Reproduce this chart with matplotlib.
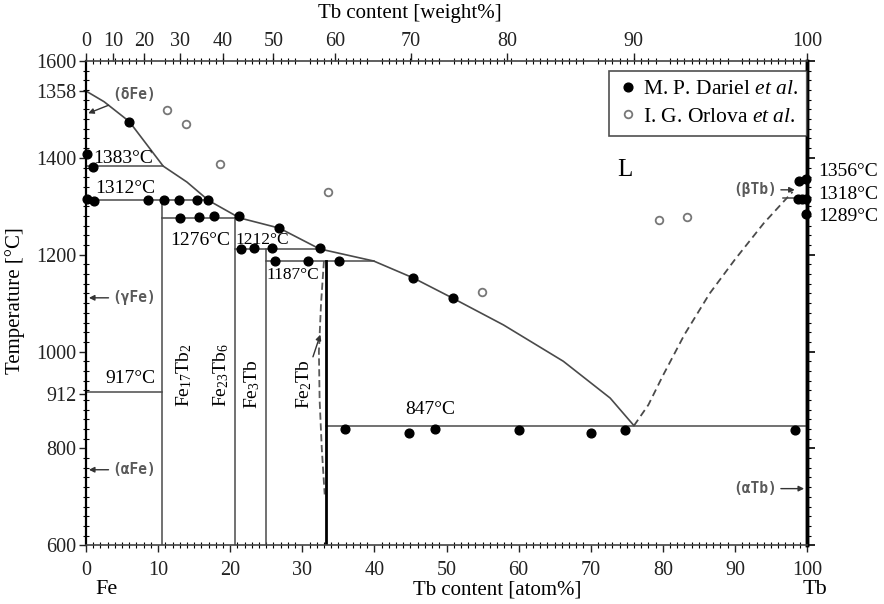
import matplotlib
matplotlib.use("Agg")
import matplotlib.pyplot as plt
from matplotlib.ticker import MultipleLocator, FixedLocator
import numpy as np

plt.rcParams['font.family'] = ['Liberation Serif', 'DejaVu Serif']
plt.rcParams['mathtext.fontset'] = 'custom'
plt.rcParams['mathtext.rm'] = 'Liberation Serif'
plt.rcParams['mathtext.it'] = 'Liberation Serif:italic'

# liquidus (solid, Fe side) and Tb side (dashed)
liq_x = [0, 2.5, 6.0, 10.7, 14.0, 17.0, 21.3, 26.8, 32.4, 39.9, 45.4, 50.9, 57.9, 66.2, 72.7, 76.0]
liq_t = [1538, 1516, 1475, 1383, 1350, 1312, 1276, 1255, 1212, 1187, 1152, 1110, 1055, 980, 904, 847]
tb_liq_x = [76.0, 78.0, 80.0, 83.0, 86.5, 90.0, 94.0, 98.0]
tb_liq_t = [847, 890, 950, 1035, 1120, 1190, 1265, 1330]
fe2tb_x = [33.0, 32.6, 32.3, 32.4, 32.7, 33.1]
fe2tb_t = [1187, 1100, 1000, 900, 800, 705]

# invariant lines: (x start, x end, temperature)
iso_x0 = [0, 0, 10.5, 20.7, 25.0, 0, 33.3, 96.7]
iso_x1 = [10.7, 17.0, 21.3, 32.4, 39.9, 10.5, 100, 100]
iso_t = [1383, 1312, 1276, 1212, 1187, 917, 847, 1317]

# compounds: composition, top temperature, label
comp_x = [10.5, 20.7, 25.0]
comp_top = [1312, 1276, 1212]
comp_labels = [r'Fe$_{17}$Tb$_2$', r'Fe$_{23}$Tb$_6$', r'Fe$_3$Tb']
comp_label_x = [13.6, 18.8, 23.0]
comp_label_t = [952, 952, 932]

# M. P. Dariel et al. (filled)
dar_x = [0.2, 1.0, 6.0, 0.2, 1.1, 8.6, 10.8, 12.9, 15.4, 16.9, 13.0, 15.7, 17.8, 21.2,
         26.8, 21.5, 23.3, 25.8, 32.5, 26.2, 30.8, 35.1, 45.4, 50.9,
         35.9, 44.8, 48.4, 60.0, 70.0, 74.8, 98.3, 98.9, 99.9, 98.7, 99.3, 99.9, 99.9]
dar_t = [1408, 1382, 1475, 1315, 1310, 1312, 1312, 1312, 1312, 1314, 1276, 1277, 1279, 1279,
         1255, 1212, 1214, 1214, 1213, 1187, 1188, 1187, 1152, 1110,
         840, 832, 841, 838, 832, 838, 838, 1353, 1357, 1316, 1316, 1316, 1284]
# I. G. Orlova et al. (open)
orl_x = [11.3, 13.8, 18.6, 33.5, 54.9, 79.5, 83.3]
orl_t = [1498, 1470, 1388, 1329, 1123, 1272, 1278]

# temperature labels
temp_text = ['1383°C', '1312°C', '1276°C', '1212°C', '1187°C', '917°C', '847°C']
temp_x = [5.2, 5.4, 15.8, 24.4, 28.75, 6.1, 47.7]
temp_t = [1399, 1337, 1229, 1231, 1159, 945, 880]
temp_size = [14, 14, 14, 12.5, 12.5, 14, 14]
tb_text = ['1356°C', '1318°C', '1289°C']
tb_t = [1372, 1324, 1279]

y_ticks = [600, 800, 912, 1000, 1200, 1400, 1538, 1600]
y_ticklabels = ['600', '800', '912', '1000', '1200', '1400', '1358', '1600']
wt_ticks = [0, 10, 20, 30, 40, 50, 60, 70, 80, 90, 100]

M_TB, M_FE = 158.925, 55.845


def at2wt(a):
    a = np.asarray(a, float)
    with np.errstate(divide='ignore', invalid='ignore'):
        return 100 * a * M_TB / (a * M_TB + (100 - a) * M_FE)


def wt2at(w):
    w = np.asarray(w, float)
    with np.errstate(divide='ignore', invalid='ignore'):
        return 100 * (w / M_TB) / (w / M_TB + (100 - w) / M_FE)


line_c = '#4a4a4a'
phase_c = '#5a5a5a'

fig = plt.figure(figsize=(8.84, 6.04), dpi=100)
ax = fig.add_axes([0.0973, 0.0972, 0.8156, 0.8018])
ax.set_xlim(0, 100)
ax.set_ylim(600, 1600)

ax.plot(liq_x, liq_t, color=line_c, lw=1.2)
ax.plot(tb_liq_x, tb_liq_t, color=line_c, lw=1.3, ls=(0, (4, 2.5)))
ax.plot(fe2tb_x, fe2tb_t, color=phase_c, lw=1.3, ls=(0, (4, 2)))
for x0, x1, t in zip(iso_x0, iso_x1, iso_t):
    ax.plot([x0, x1], [t, t], color=line_c, lw=1.1)
for x, top in zip(comp_x, comp_top):
    ax.plot([x, x], [600, top], color=line_c, lw=1.1)
ax.plot([33.3, 33.3], [600, 1187], color='black', lw=2.0)

for lab, x, t in zip(comp_labels, comp_label_x, comp_label_t):
    ax.text(x, t, lab, rotation=90, ha='center', va='center', fontsize=14)
ax.annotate(r'Fe$_2$Tb', xy=(32.5, 1035), xytext=(30.2, 932), rotation=90,
            ha='center', va='center', fontsize=14,
            arrowprops=dict(arrowstyle='-|>', color='#333', lw=1, shrinkA=0, shrinkB=0,
                            mutation_scale=8))

ax.plot(dar_x, dar_t, 'o', color='black', ms=6.3, clip_on=False, label=r'M. P. Dariel $\mathit{et\ al}$.')
ax.plot(orl_x, orl_t, 'o', mfc='white', mec='#777', mew=1.3, ms=5.5, label=r'I. G. Orlova $\mathit{et\ al}$.')

for s, x, t, fs in zip(temp_text, temp_x, temp_t, temp_size):
    ax.text(x, t, s, ha='center', va='center', fontsize=fs)
for s, t in zip(tb_text, tb_t):
    ax.text(101.5, t, s, ha='left', va='center', fontsize=14, clip_on=False)
ax.text(74.7, 1375, 'L', ha='center', va='center', fontsize=18)

mono = dict(family='DejaVu Sans Mono', fontsize=10.5, color=phase_c, fontweight='bold')
arr = dict(arrowstyle='-|>', color='#333', lw=1, shrinkA=1, shrinkB=0, mutation_scale=8)
ax.annotate('(δFe)', xy=(0.3, 1492), xytext=(3.7, 1530), ha='left', va='center', arrowprops=arr, **mono)
ax.annotate('(γFe)', xy=(0.4, 1111), xytext=(3.7, 1111), ha='left', va='center', arrowprops=arr, **mono)
ax.annotate('(αFe)', xy=(0.4, 756), xytext=(3.7, 756), ha='left', va='center', arrowprops=arr, **mono)
ax.annotate('(βTb)', xy=(98.3, 1334), xytext=(95.8, 1334), ha='right', va='center', arrowprops=arr, **mono)
ax.annotate('(αTb)', xy=(99.6, 717), xytext=(95.8, 717), ha='right', va='center', arrowprops=arr, **mono)

# axes, ticks
ax.set_xticks(np.arange(0, 101, 10))
ax.xaxis.set_minor_locator(MultipleLocator(1))
ax.set_yticks(y_ticks)
ax.set_yticklabels(y_ticklabels)
ax.yaxis.set_minor_locator(MultipleLocator(20))
ax.tick_params(labelsize=14.5, colors='#222')
ax.tick_params(axis='x', which='major', direction='out', length=5, width=1, pad=6)
ax.tick_params(axis='x', which='minor', direction='inout', length=4, width=0.8, top=True)
ax.tick_params(axis='y', which='major', direction='out', length=5, width=1, pad=2)
ax.tick_params(axis='y', which='minor', direction='inout', length=4, width=0.8)

top = ax.secondary_xaxis('top', functions=(at2wt, wt2at))
top.xaxis.set_major_locator(FixedLocator(wt_ticks))
top.tick_params(labelsize=14.5, direction='out', length=6, width=1, pad=1.5, colors='#222')
top.spines['top'].set_visible(False)

right = ax.secondary_yaxis('right')
right.yaxis.set_major_locator(MultipleLocator(200))
right.yaxis.set_minor_locator(MultipleLocator(20))
right.set_yticklabels([])
right.tick_params(which='major', direction='out', length=6, width=1.2)
right.tick_params(which='minor', direction='out', length=3, width=0.8)
right.spines['right'].set_linewidth(2.5)

for side in ['top', 'bottom']:
    ax.spines[side].set_linewidth(1.2)
    ax.spines[side].set_color('#444')
ax.spines['left'].set_linewidth(1.6)
ax.spines['right'].set_linewidth(2.5)

ax.text(0.029, -0.092, 'Fe', transform=ax.transAxes, ha='center', va='center', fontsize=16)
ax.text(1.011, -0.092, 'Tb', transform=ax.transAxes, ha='center', va='center', fontsize=16)
ax.text(0.570, -0.092, 'Tb content [atom%]', transform=ax.transAxes, ha='center', va='center', fontsize=15)
ax.text(0.449, 1.099, 'Tb content [weight%]', transform=ax.transAxes, ha='center', va='center', fontsize=15)
ax.text(-0.098, 0.506, 'Temperature [°C]', transform=ax.transAxes, ha='center', va='center',
        fontsize=15, rotation=90)

leg = ax.legend(loc='upper right', bbox_to_anchor=(1.0, 0.98), borderaxespad=0, fontsize=15.5,
                fancybox=False, edgecolor='#222', handletextpad=0.2, handlelength=1.0,
                borderpad=0.4, labelspacing=0.35)
leg.get_frame().set_linewidth(1.2)

fig.savefig('out.png', dpi=100)
